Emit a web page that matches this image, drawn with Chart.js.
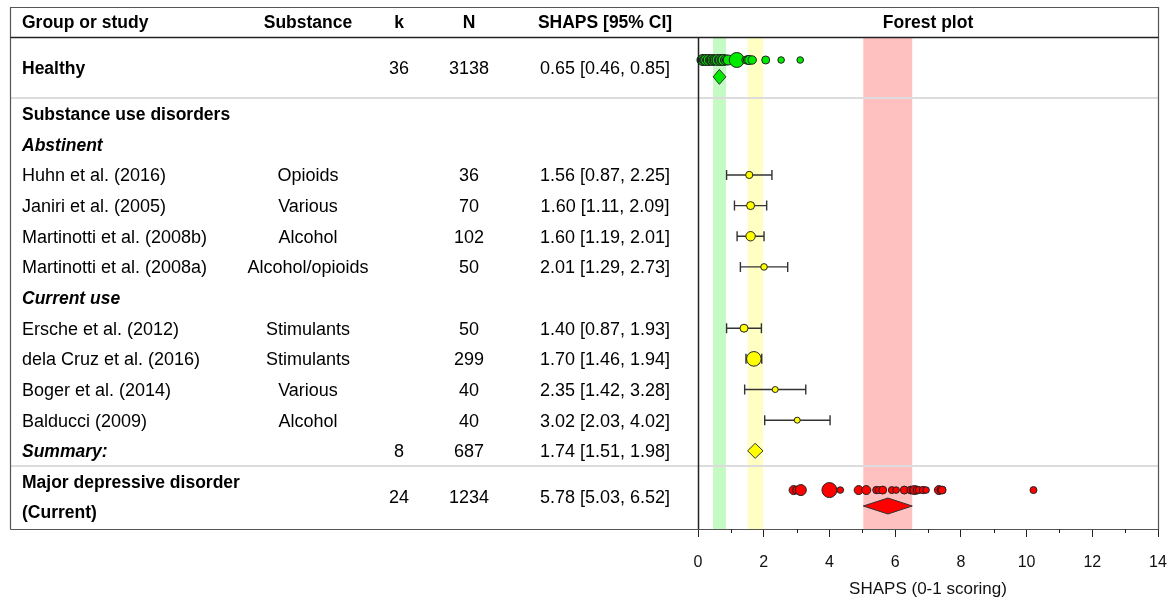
<!DOCTYPE html>
<html><head><meta charset="utf-8">
<script src="https://cdn.jsdelivr.net/npm/chart.js@4.4.1/dist/chart.umd.min.js"></script>
<style>html,body{margin:0;padding:0;background:#fff;}canvas{display:block;}</style>
</head><body>
<canvas id="c" width="1167" height="598"></canvas>
<script>
// ---- data -------------------------------------------------------------
// Healthy control samples (study means, SHAPS 0-1 scoring)
const healthyMeans = [0.12,0.15,0.18,0.2,0.22,0.25,0.28,0.3,0.33,0.36,0.4,0.42,0.45,0.48,0.5,0.53,0.56,0.6,0.63,0.66,0.7,0.72,0.75,0.78,0.82,0.85,0.88,0.92,1.18,1.45,1.52,1.56,1.65,2.06,2.53,3.11];
// Major depressive disorder samples (study means)
const mddMeans = [2.91,3.0,3.13,4.0,4.33,4.89,5.12,5.43,5.5,5.62,5.9,6.03,6.28,6.48,6.55,6.59,6.67,6.72,6.85,6.94,7.33,7.38,7.43,10.21];

// Substance use disorder studies
const studyNames = ['Huhn et al. (2016)','Janiri et al. (2005)','Martinotti et al. (2008b)','Martinotti et al. (2008a)','Ersche et al. (2012)','dela Cruz et al. (2016)','Boger et al. (2014)','Balducci (2009)'];
const studySubstance = ['Opioids','Various','Alcohol','Alcohol/opioids','Stimulants','Stimulants','Various','Alcohol'];
const studyN = [36,70,102,50,50,299,40,40];
const studyEst = [1.56,1.60,1.60,2.01,1.40,1.70,2.35,3.02];
const studyLo = [0.87,1.11,1.19,1.29,0.87,1.46,1.42,2.03];
const studyHi = [2.25,2.09,2.01,2.73,1.93,1.94,3.28,4.02];

// Pooled estimates: healthy, substance use summary, major depressive disorder
const pooledK = [36,8,24];
const pooledN = [3138,687,1234];
const pooledEst = [0.65,1.74,5.78];
const pooledLo = [0.46,1.51,5.03];
const pooledHi = [0.85,1.98,6.52];

// x axis
const axisLabels = [0,2,4,6,8,10,12,14];

// ---- layout and styling ---------------------------------------------
const FONT = "'Liberation Sans', Arial, sans-serif";
const ROW = {healthyText:1.0, healthyDots:0.75, healthyDiamond:1.3, sud:2.5, abstinent:3.5, current:8.5,
             summary:13.5, mddTitle:14.5, mddValues:15.0, mddSub:15.5, mddDots:14.78, mddDiamond:15.3,
             sepHealthy:2.0, sepMdd:14.0};
const studyRows = [4.5,5.5,6.5,7.5,9.5,10.5,11.5,12.5];
const studyRadius = [3.6,4,4.7,3.3,4,7.3,3,3];
const healthyRadius = [5,5.5,4.5,5,4.5,5.5,4.5,5,5.5,4.5,5,4.5,5.5,5,4.5,5,4.5,5.5,4.5,5,5.5,4.5,5,5.5,4.5,5,4.5,5,7.5,3.8,4.5,4.5,4.2,4,3.3,3.3];
const mddRadius = [4.5,4,5.5,7.5,3.3,4.5,4.5,3.7,3.5,4,3.5,3.3,4,4,4,4.5,4,3.5,3.7,3.3,4.5,3.5,4,3.5];
const GREEN = '#00ea00', YELLOW = '#ffff00', RED = '#ff0000';
const bandColors = ['#c4fac4','#ffffc4','#ffc0c0'];
const diamondFill = [GREEN, YELLOW, RED];
const diamondHalf = [7.5, 7.5, 8];
const diamondRows = [ROW.healthyDiamond, ROW.summary, ROW.mddDiamond];

const COL = {name:22, substance:308, k:399, n:469, ci:605};
const TEXT_DY = 1.5;
const fmt = v => v.toFixed(2);
const ciText = (e,l,h) => `${fmt(e)} [${fmt(l)}, ${fmt(h)}]`;

const forestPlugin = {
  id: 'forestTable',
  beforeDraw(chart) {
    const {ctx, chartArea: a, scales: {x}} = chart;
    ctx.save();
    ctx.fillStyle = '#fff';
    ctx.fillRect(0, 0, chart.width, chart.height);
    // pooled confidence bands
    pooledLo.forEach((lo, i) => {
      const x0 = x.getPixelForValue(lo), x1 = x.getPixelForValue(pooledHi[i]);
      ctx.fillStyle = bandColors[i];
      ctx.fillRect(x0, a.top, x1 - x0, a.bottom - a.top);
    });
    ctx.restore();
  },
  beforeDatasetsDraw(chart) {
    const {ctx, scales: {x, y}} = chart;
    ctx.save();
    ctx.strokeStyle = '#333';
    ctx.lineWidth = 1.4;
    studyEst.forEach((e, i) => {
      const yy = y.getPixelForValue(studyRows[i]);
      const x0 = x.getPixelForValue(studyLo[i]), x1 = x.getPixelForValue(studyHi[i]);
      ctx.beginPath();
      ctx.moveTo(x0, yy); ctx.lineTo(x1, yy);
      ctx.moveTo(x0, yy - 5); ctx.lineTo(x0, yy + 5);
      ctx.moveTo(x1, yy - 5); ctx.lineTo(x1, yy + 5);
      ctx.stroke();
    });
    ctx.restore();
  },
  afterDatasetsDraw(chart) {
    const {ctx, scales: {x, y}} = chart;
    ctx.save();
    ctx.strokeStyle = '#333';
    ctx.lineWidth = 1;
    pooledEst.forEach((e, i) => {
      const yy = y.getPixelForValue(diamondRows[i]);
      const xe = x.getPixelForValue(e), x0 = x.getPixelForValue(pooledLo[i]), x1 = x.getPixelForValue(pooledHi[i]);
      const h = diamondHalf[i];
      ctx.beginPath();
      ctx.moveTo(x0, yy); ctx.lineTo(xe, yy - h); ctx.lineTo(x1, yy); ctx.lineTo(xe, yy + h);
      ctx.closePath();
      ctx.fillStyle = diamondFill[i];
      ctx.fill(); ctx.stroke();
    });
    ctx.restore();
  },
  afterDraw(chart) {
    const {ctx, chartArea: a, scales: {x, y}} = chart;
    const L = 10.5, R = 1158.5, T = 7.5;
    ctx.save();
    // light separators between groups
    ctx.strokeStyle = '#dcdcdc';
    ctx.lineWidth = 2;
    [ROW.sepHealthy, ROW.sepMdd].forEach(r => {
      const yy = Math.round(y.getPixelForValue(r));
      ctx.beginPath(); ctx.moveTo(L, yy); ctx.lineTo(R, yy); ctx.stroke();
    });
    // outer frame and header rule
    ctx.lineWidth = 1.2;
    ctx.strokeStyle = '#555';
    ctx.beginPath();
    ctx.moveTo(L, a.bottom + 0.5); ctx.lineTo(L, T); ctx.lineTo(R, T); ctx.lineTo(R, a.bottom + 0.5);
    ctx.moveTo(L, a.bottom + 0.5); ctx.lineTo(R, a.bottom + 0.5);
    ctx.stroke();
    ctx.strokeStyle = '#222';
    ctx.lineWidth = 1.5;
    ctx.beginPath();
    ctx.moveTo(L, a.top + 0.5); ctx.lineTo(R, a.top + 0.5);
    ctx.moveTo(a.left + 0.5, a.top); ctx.lineTo(a.left + 0.5, a.bottom);
    ctx.stroke();
    // minor ticks on odd values
    ctx.strokeStyle = '#222';
    ctx.lineWidth = 1;
    for (let v = 1; v < 14; v += 2) {
      const xx = Math.round(x.getPixelForValue(v)) + 0.5;
      ctx.beginPath(); ctx.moveTo(xx, a.bottom); ctx.lineTo(xx, a.bottom + 4); ctx.stroke();
    }

    // table text
    ctx.fillStyle = '#000';
    ctx.textBaseline = 'middle';
    const bold = `bold 17.5px ${FONT}`, reg = `18px ${FONT}`, bi = `italic bold 17.5px ${FONT}`;
    const text = (s, xx, yy, font, align) => { ctx.font = font; ctx.textAlign = align || 'left'; ctx.fillText(s, xx, yy + TEXT_DY); };
    const hy = 22;
    text('Group or study', COL.name, hy, bold);
    text('Substance', COL.substance, hy, bold, 'center');
    text('k', COL.k, hy, bold, 'center');
    text('N', COL.n, hy, bold, 'center');
    text('SHAPS [95% CI]', COL.ci, hy, bold, 'center');
    text('Forest plot', (a.left + a.right) / 2, hy, bold, 'center');

    // healthy
    let yy = y.getPixelForValue(ROW.healthyText);
    text('Healthy', COL.name, yy, bold);
    text(String(pooledK[0]), COL.k, yy, reg, 'center');
    text(String(pooledN[0]), COL.n, yy, reg, 'center');
    text(ciText(pooledEst[0], pooledLo[0], pooledHi[0]), COL.ci, yy, reg, 'center');

    // substance use disorders
    text('Substance use disorders', COL.name, y.getPixelForValue(ROW.sud), bold);
    text('Abstinent', COL.name, y.getPixelForValue(ROW.abstinent), bi);
    text('Current use', COL.name, y.getPixelForValue(ROW.current), bi);
    studyNames.forEach((nm, i) => {
      const sy = y.getPixelForValue(studyRows[i]);
      text(nm, COL.name, sy, reg);
      text(studySubstance[i], COL.substance, sy, reg, 'center');
      text(String(studyN[i]), COL.n, sy, reg, 'center');
      text(ciText(studyEst[i], studyLo[i], studyHi[i]), COL.ci, sy, reg, 'center');
    });
    yy = y.getPixelForValue(ROW.summary);
    text('Summary:', COL.name, yy, bi);
    text(String(pooledK[1]), COL.k, yy, reg, 'center');
    text(String(pooledN[1]), COL.n, yy, reg, 'center');
    text(ciText(pooledEst[1], pooledLo[1], pooledHi[1]), COL.ci, yy, reg, 'center');

    // major depressive disorder
    text('Major depressive disorder', COL.name, y.getPixelForValue(ROW.mddTitle), bold);
    text('(Current)', COL.name, y.getPixelForValue(ROW.mddSub), bold);
    yy = y.getPixelForValue(ROW.mddValues);
    text(String(pooledK[2]), COL.k, yy, reg, 'center');
    text(String(pooledN[2]), COL.n, yy, reg, 'center');
    text(ciText(pooledEst[2], pooledLo[2], pooledHi[2]), COL.ci, yy, reg, 'center');
    ctx.restore();
  }
};

const pointDefaults = {borderColor: '#222', borderWidth: 1, pointHoverRadius: 0, clip: false};

new Chart(document.getElementById('c'), {
  type: 'scatter',
  data: {
    datasets: [
      Object.assign({label: 'Healthy', data: healthyMeans.map(v => ({x: v, y: ROW.healthyDots})),
        backgroundColor: GREEN, pointRadius: healthyRadius}, pointDefaults),
      Object.assign({label: 'Substance use disorders', data: studyEst.map((v, i) => ({x: v, y: studyRows[i]})),
        backgroundColor: YELLOW, pointRadius: studyRadius}, pointDefaults),
      Object.assign({label: 'Major depressive disorder', data: mddMeans.map(v => ({x: v, y: ROW.mddDots})),
        backgroundColor: RED, pointRadius: mddRadius}, pointDefaults)
    ]
  },
  options: {
    responsive: false,
    devicePixelRatio: 1,
    animation: false,
    events: [],
    layout: {padding: {left: 698, top: 37, right: 9, bottom: 0}},
    plugins: {legend: {display: false}, tooltip: {enabled: false}},
    scales: {
      x: {
        type: 'linear', min: 0, max: 14, position: 'bottom',
        afterFit: s => { s.height = 69; s.paddingLeft = 0; s.paddingRight = 0; },
        afterBuildTicks: s => { s.ticks = Array.from({length: 15}, (_, v) => ({value: v})); },
        ticks: {
          autoSkip: false, maxRotation: 0, padding: 16,
          color: '#111', font: {size: 16, family: FONT},
          callback: v => axisLabels.includes(v) ? String(v) : ''
        },
        grid: {drawOnChartArea: false, tickLength: 8, tickWidth: 1,
               tickColor: c => (c.tick && c.tick.value % 2 === 0) ? '#222' : 'rgba(0,0,0,0)'},
        border: {display: true, color: '#222', width: 1},
        title: {display: true, text: 'SHAPS (0-1 scoring)', color: '#111',
                font: {size: 17, family: FONT, lineHeight: 1.0}, padding: {top: 0, bottom: 0}}
      },
      y: {type: 'linear', min: 0, max: 16.05, reverse: true, display: false}
    }
  },
  plugins: [forestPlugin]
});
</script>
</body></html>
